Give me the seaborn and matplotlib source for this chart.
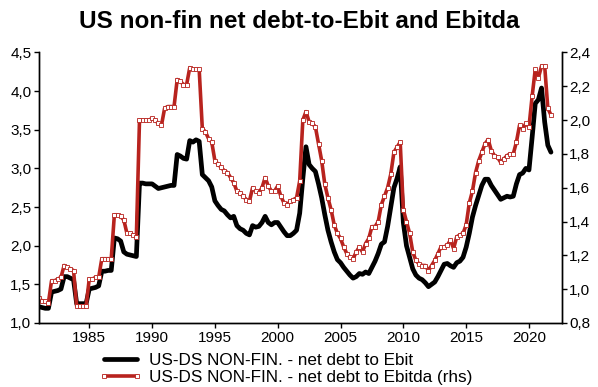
import numpy as np
import pandas as pd
import matplotlib
matplotlib.use("Agg")
import matplotlib.pyplot as plt
from matplotlib.ticker import FuncFormatter, MultipleLocator
import seaborn as sns

# quarterly readings, 1981Q1 .. 2021Q4
start_year = 1981

ebit = [
    1.21, 1.20, 1.19, 1.19,  # 1981
    1.40, 1.41, 1.42, 1.44,
    1.60, 1.60, 1.58, 1.56,
    1.25, 1.25, 1.25, 1.25,
    1.44, 1.45, 1.46, 1.48,  # 1985
    1.67, 1.67, 1.68, 1.68,
    2.10, 2.09, 2.06, 1.92,
    1.89, 1.88, 1.87, 1.86,
    2.81, 2.81, 2.80, 2.80,
    2.80, 2.77, 2.74, 2.75,  # 1990
    2.76, 2.77, 2.78, 2.78,
    3.18, 3.16, 3.13, 3.12,
    3.36, 3.34, 3.37, 3.35,
    2.92, 2.88, 2.84, 2.76,
    2.58, 2.52, 2.47, 2.45,  # 1995
    2.40, 2.36, 2.38, 2.26,
    2.22, 2.20, 2.16, 2.14,
    2.26, 2.24, 2.25, 2.30,
    2.38, 2.30, 2.27, 2.30,
    2.30, 2.24, 2.18, 2.13,  # 2000
    2.13, 2.16, 2.20, 2.42,
    2.87, 3.28, 3.05, 3.00,
    2.96, 2.80, 2.62, 2.40,
    2.20, 2.05, 1.92, 1.82,
    1.78, 1.72, 1.67, 1.62,  # 2005
    1.58, 1.60, 1.64, 1.63,
    1.66, 1.64, 1.72, 1.80,
    1.90, 2.02, 2.05, 2.25,
    2.50, 2.75, 2.87, 3.02,
    2.30, 2.00, 1.85, 1.70,  # 2010
    1.62, 1.58, 1.56, 1.52,
    1.47, 1.50, 1.53, 1.60,
    1.68, 1.76, 1.77, 1.74,
    1.72, 1.78, 1.80, 1.85,
    1.98, 2.16, 2.37, 2.52,  # 2015
    2.65, 2.78, 2.86, 2.86,
    2.78, 2.72, 2.66, 2.60,
    2.62, 2.64, 2.63, 2.64,
    2.80, 2.92, 2.94, 3.00,
    2.98, 3.40, 3.84, 3.89,  # 2020
    4.04, 3.60, 3.30, 3.21,
]

ebitda = [
    0.945, 0.93, 0.93, 0.92,  # 1981
    1.05, 1.05, 1.06, 1.07,
    1.14, 1.13, 1.12, 1.11,
    0.90, 0.90, 0.90, 0.90,
    1.06, 1.06, 1.07, 1.07,  # 1985
    1.18, 1.18, 1.18, 1.18,
    1.44, 1.44, 1.43, 1.41,
    1.33, 1.33, 1.32, 1.31,
    2.00, 2.00, 2.00, 2.00,
    2.01, 2.00, 1.98, 1.97,  # 1990
    2.07, 2.08, 2.08, 2.08,
    2.24, 2.23, 2.21, 2.21,
    2.31, 2.30, 2.30, 2.30,
    1.95, 1.93, 1.89, 1.87,
    1.76, 1.74, 1.72, 1.70,  # 1995
    1.69, 1.66, 1.63, 1.58,
    1.57, 1.55, 1.53, 1.52,
    1.60, 1.58, 1.57, 1.60,
    1.66, 1.61, 1.58, 1.58,
    1.61, 1.55, 1.51, 1.50,  # 2000
    1.52, 1.53, 1.54, 1.64,
    2.00, 2.05, 1.99, 1.98,
    1.96, 1.86, 1.76, 1.62,
    1.54, 1.47, 1.38, 1.33,
    1.30, 1.25, 1.21, 1.19,  # 2005
    1.18, 1.22, 1.25, 1.22,
    1.27, 1.30, 1.37, 1.37,
    1.40, 1.50, 1.55, 1.60,
    1.68, 1.81, 1.84, 1.87,
    1.47, 1.40, 1.33, 1.22,  # 2010
    1.17, 1.15, 1.14, 1.14,
    1.11, 1.14, 1.17, 1.21,
    1.25, 1.25, 1.26, 1.29,
    1.24, 1.31, 1.32, 1.33,
    1.38, 1.51, 1.58, 1.69,  # 2015
    1.76, 1.81, 1.86, 1.885,
    1.82, 1.79, 1.78, 1.75,
    1.77, 1.79, 1.80, 1.80,
    1.87, 1.97, 1.95, 1.98,
    1.96, 2.14, 2.30, 2.25,  # 2020
    2.32, 2.32, 2.07, 2.03,
]

label_ebit = "US-DS NON-FIN. - net debt to Ebit"
label_ebitda = "US-DS NON-FIN. - net debt to Ebitda (rhs)"
title = "US non-fin net debt-to-Ebit and Ebitda"

df = pd.DataFrame({
    "year": start_year + np.arange(len(ebit)) / 4,
    "ebit": ebit,
    "ebitda": ebitda,
})

sns.set_style("ticks")
plt.rcParams["font.family"] = ["Liberation Sans", "DejaVu Sans"]
plt.rcParams["text.color"] = "black"

red = "#b8231e"

fig = plt.figure(figsize=(5.98, 3.87), dpi=100)
ax = fig.add_axes([0.0652, 0.1654, 0.874, 0.699])
ax2 = ax.twinx()

sns.lineplot(data=df, x="year", y="ebit", ax=ax, color="black", lw=3.4,
             label=label_ebit, legend=False)
sns.lineplot(data=df, x="year", y="ebitda", ax=ax2, color=red, lw=2.6,
             marker="s", markersize=2.6, markerfacecolor="white",
             markeredgecolor=red, markeredgewidth=0.6,
             label=label_ebitda, legend=False)

comma = FuncFormatter(lambda v, p: f"{v:.1f}".replace(".", ","))

ax.set_xlim(1981.0, 2022.6)
ax.set_ylim(1.0, 4.5)
ax2.set_ylim(0.8, 2.4)
ax.xaxis.set_major_locator(MultipleLocator(5))
ax.yaxis.set_major_locator(MultipleLocator(0.5))
ax2.yaxis.set_major_locator(MultipleLocator(0.2))
ax.yaxis.set_major_formatter(comma)
ax2.yaxis.set_major_formatter(comma)
ax.set_xlabel("")
ax.set_ylabel("")
ax2.set_ylabel("")

for a in (ax, ax2):
    a.spines["top"].set_visible(False)
    for s in ("left", "right", "bottom"):
        a.spines[s].set_linewidth(1.0)
        a.spines[s].set_color("black")
    a.tick_params(axis="both", direction="out", length=3.5, width=1,
                  labelsize=11, colors="black", pad=2)
ax.spines["right"].set_visible(True)

fig.suptitle(title, fontsize=17.5, fontweight="bold", color="black",
             x=0.5, y=0.975)

handles = ax.get_lines()[:1] + ax2.get_lines()[:1]
fig.legend(handles, [label_ebit, label_ebitda], loc="upper left",
           bbox_to_anchor=(0.166, 0.088), frameon=False, fontsize=12.3,
           handlelength=2.5, handletextpad=0.4, labelspacing=0.12,
           numpoints=2, borderpad=0, borderaxespad=0, labelcolor="black")

fig.savefig("out.png", dpi=100)
